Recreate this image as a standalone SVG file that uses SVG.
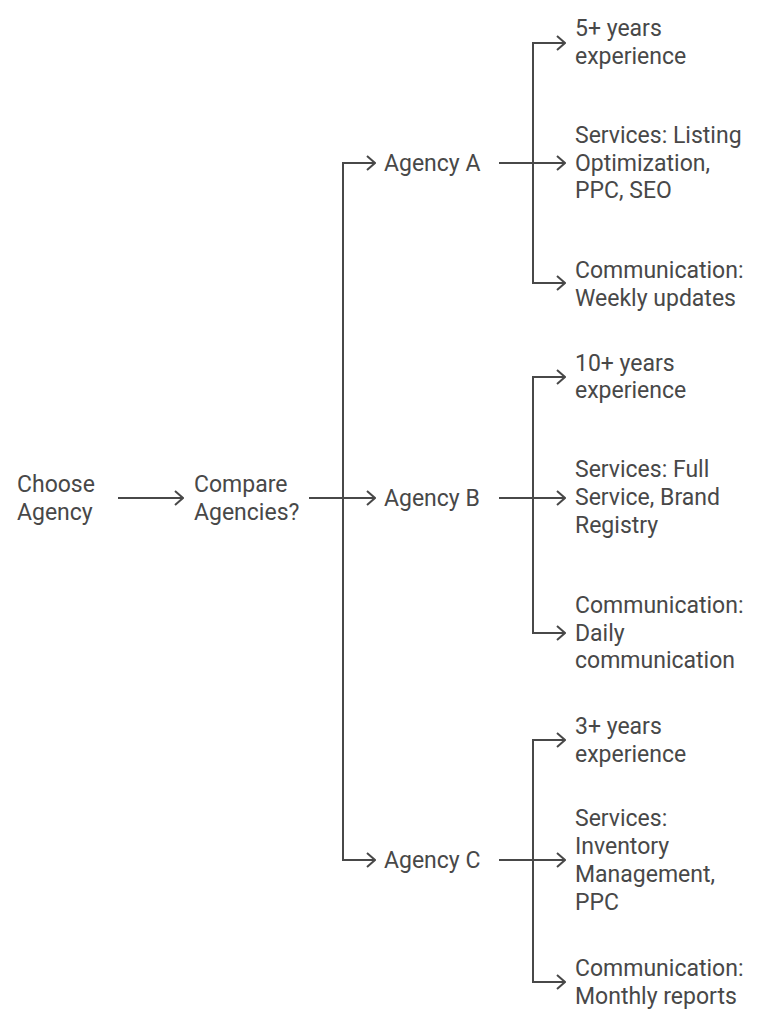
<svg xmlns="http://www.w3.org/2000/svg" width="768" height="1024" viewBox="0 0 768 1024">
<defs>
<style>
.t{font-family:Roboto,"Liberation Sans",sans-serif;font-size:23px;fill:#484848}
.c{fill:none;stroke:#484848;stroke-width:2}
</style>
<marker id="ah" viewBox="0 0 10 16" refX="9" refY="8" markerWidth="10" markerHeight="16" markerUnits="userSpaceOnUse" orient="auto">
<path d="M1,1 L9,8 L1,15" fill="none" stroke="#484848" stroke-width="2"/>
</marker>
</defs>
<rect width="768" height="1024" fill="#fff"/>
<g id="connectors">
<path class="c" d="M118,498 H183" marker-end="url(#ah)"/>
<path class="c" d="M309,498 H343"/>
<path class="c" d="M343,498 V163 H375" marker-end="url(#ah)"/>
<path class="c" d="M343,498 H375" marker-end="url(#ah)"/>
<path class="c" d="M343,498 V860 H375" marker-end="url(#ah)"/>
<path class="c" d="M499,163 H533"/>
<path class="c" d="M533,163 V43 H565" marker-end="url(#ah)"/>
<path class="c" d="M533,163 H565" marker-end="url(#ah)"/>
<path class="c" d="M533,163 V283 H565" marker-end="url(#ah)"/>
<path class="c" d="M499,498 H533"/>
<path class="c" d="M533,498 V377 H565" marker-end="url(#ah)"/>
<path class="c" d="M533,498 H565" marker-end="url(#ah)"/>
<path class="c" d="M533,498 V633 H565" marker-end="url(#ah)"/>
<path class="c" d="M499,860 H533"/>
<path class="c" d="M533,860 V740 H565" marker-end="url(#ah)"/>
<path class="c" d="M533,860 H565" marker-end="url(#ah)"/>
<path class="c" d="M533,860 V982 H565" marker-end="url(#ah)"/>
</g>
<g id="choose"><text class="t" x="17" y="492">Choose</text><text class="t" x="17" y="520">Agency</text></g>
<g id="compare"><text class="t" x="194" y="492">Compare</text><text class="t" x="194" y="520">Agencies?</text></g>
<g id="agencyA"><text class="t" x="384" y="171">Agency A</text></g>
<g id="agencyB"><text class="t" x="384" y="506">Agency B</text></g>
<g id="agencyC"><text class="t" x="384" y="868">Agency C</text></g>
<g id="a-exp"><text class="t" x="575" y="36">5+ years</text><text class="t" x="575" y="64">experience</text></g>
<g id="a-svc"><text class="t" x="575" y="143">Services: Listing</text><text class="t" x="575" y="171">Optimization,</text><text class="t" x="575" y="198">PPC, SEO</text></g>
<g id="a-com"><text class="t" x="575" y="278">Communication:</text><text class="t" x="575" y="306">Weekly updates</text></g>
<g id="b-exp"><text class="t" x="575" y="371">10+ years</text><text class="t" x="575" y="398">experience</text></g>
<g id="b-svc"><text class="t" x="575" y="477">Services: Full</text><text class="t" x="575" y="505">Service, Brand</text><text class="t" x="575" y="533">Registry</text></g>
<g id="b-com"><text class="t" x="575" y="613">Communication:</text><text class="t" x="575" y="641">Daily</text><text class="t" x="575" y="668">communication</text></g>
<g id="c-exp"><text class="t" x="575" y="734">3+ years</text><text class="t" x="575" y="762">experience</text></g>
<g id="c-svc"><text class="t" x="575" y="826">Services:</text><text class="t" x="575" y="854">Inventory</text><text class="t" x="575" y="882">Management,</text><text class="t" x="575" y="910">PPC</text></g>
<g id="c-com"><text class="t" x="575" y="976">Communication:</text><text class="t" x="575" y="1004">Monthly reports</text></g>
</svg>
